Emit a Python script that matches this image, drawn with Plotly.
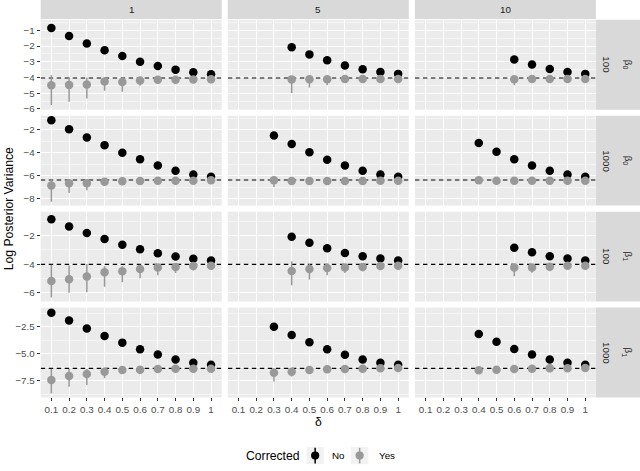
import numpy as np
import plotly.graph_objects as go

# ---------------- data ----------------
delta = [0.1, 0.2, 0.3, 0.4, 0.5, 0.6, 0.7, 0.8, 0.9, 1.0]
delta_labels = ["0.1", "0.2", "0.3", "0.4", "0.5", "0.6", "0.7", "0.8", "0.9", "1"]
col_labels = ["1", "5", "10"]
row_n_labels = ["100", "1000", "100", "1000"]
row_beta_labels = ["β<sub>0</sub>", "β<sub>0</sub>", "β<sub>1</sub>", "β<sub>1</sub>"]
col_start = [0.1, 0.4, 0.6]          # first delta shown per column (rows 1,3)
col_start_1000 = [0.1, 0.3, 0.4]     # first delta shown per column (rows 2,4)

truth = [-4.03, -6.38, -4.02, -6.34]

# Row 1: beta0, n=100
b0_100_no = [[-0.85, -1.36, -1.84, -2.26, -2.64, -3.00, -3.27, -3.50, -3.67, -3.79],
             [-2.07, -2.53, -2.91, -3.23, -3.48, -3.65, -3.77],
             [-2.85, -3.18, -3.46, -3.65, -3.77]]
b0_100_yes = [[-4.49, -4.47, -4.45, -4.26, -4.28, -4.19, -4.15, -4.15, -4.13, -4.11],
              [-4.12, -4.11, -4.11, -4.10, -4.10, -4.10, -4.10],
              [-4.11, -4.10, -4.10, -4.10, -4.10]]
b0_100_lo = [[-5.75, -5.54, -5.33, -4.84, -4.90, -4.53, -4.35, -4.30, -4.25, -4.20],
             [-4.99, -4.63, -4.49, -4.30, -4.25, -4.20, -4.20],
             [-4.49, -4.30, -4.25, -4.20, -4.20]]
b0_100_hi = [[-3.86, -4.00, -4.00, -4.00, -4.05, -4.00, -4.00, -4.02, -4.02, -4.02],
             [-3.90, -3.95, -3.98, -4.00, -4.00, -4.00, -4.00],
             [-3.95, -4.00, -4.00, -4.00, -4.00]]

# Row 2: beta0, n=1000
b0_1000_no = [[-1.16, -1.94, -2.66, -3.33, -3.99, -4.57, -5.12, -5.58, -5.89, -6.10],
              [-2.49, -3.24, -3.96, -4.60, -5.12, -5.58, -5.89, -6.10],
              [-3.15, -3.90, -4.57, -5.12, -5.58, -5.89, -6.10]]
b0_1000_yes = [[-6.87, -6.67, -6.67, -6.53, -6.50, -6.47, -6.44, -6.44, -6.44, -6.41],
               [-6.41, -6.47, -6.47, -6.47, -6.47, -6.47, -6.44, -6.44],
               [-6.41, -6.44, -6.44, -6.44, -6.44, -6.44, -6.44]]
b0_1000_lo = [[-8.29, -7.51, -7.28, -6.80, -6.70, -6.65, -6.60, -6.60, -6.60, -6.55],
              [-6.99, -6.75, -6.65, -6.60, -6.60, -6.60, -6.55, -6.55],
              [-6.70, -6.65, -6.60, -6.60, -6.60, -6.55, -6.55]]
b0_1000_hi = [[-6.27, -6.30, -6.35, -6.35, -6.35, -6.35, -6.35, -6.35, -6.35, -6.30],
              [-6.20, -6.30, -6.30, -6.30, -6.30, -6.30, -6.30, -6.30],
              [-6.30, -6.30, -6.30, -6.30, -6.30, -6.30, -6.30]]

# Row 3: beta1, n=100
b1_100_no = [[-0.84, -1.35, -1.81, -2.23, -2.63, -2.95, -3.23, -3.47, -3.63, -3.74],
             [-2.07, -2.49, -2.88, -3.21, -3.44, -3.60, -3.74],
             [-2.84, -3.16, -3.44, -3.60, -3.74]]
b1_100_yes = [[-5.19, -5.07, -4.88, -4.58, -4.51, -4.35, -4.23, -4.21, -4.14, -4.12],
              [-4.49, -4.35, -4.28, -4.23, -4.21, -4.14, -4.12],
              [-4.23, -4.23, -4.19, -4.12, -4.12]]
b1_100_lo = [[-6.35, -6.02, -5.98, -5.60, -5.28, -5.00, -4.79, -4.63, -4.45, -4.38],
             [-5.49, -5.09, -4.79, -4.63, -4.50, -4.40, -4.35],
             [-4.86, -4.60, -4.50, -4.35, -4.35]]
b1_100_hi = [[-4.05, -4.10, -4.00, -4.15, -4.15, -4.05, -4.00, -4.00, -3.95, -3.95],
             [-3.81, -4.00, -4.00, -4.00, -4.00, -3.95, -3.95],
             [-4.00, -4.00, -4.00, -3.95, -3.95]]

# Row 4: beta1, n=1000
b1_1000_no = [[-1.19, -1.92, -2.65, -3.35, -3.96, -4.57, -5.06, -5.52, -5.82, -6.01],
              [-2.50, -3.26, -3.93, -4.57, -5.09, -5.52, -5.82, -6.01],
              [-3.17, -3.87, -4.54, -5.06, -5.52, -5.82, -6.01]]
b1_1000_yes = [[-7.41, -7.04, -6.86, -6.65, -6.49, -6.46, -6.40, -6.37, -6.37, -6.37],
               [-6.74, -6.65, -6.49, -6.43, -6.40, -6.37, -6.34, -6.31],
               [-6.52, -6.46, -6.40, -6.37, -6.34, -6.34, -6.31]]
b1_1000_lo = [[-8.66, -8.05, -7.87, -7.26, -6.80, -6.70, -6.60, -6.55, -6.55, -6.50],
              [-7.56, -7.10, -6.75, -6.65, -6.60, -6.55, -6.50, -6.50],
              [-6.75, -6.65, -6.60, -6.55, -6.50, -6.50, -6.45]]
b1_1000_hi = [[-6.37, -6.40, -6.40, -6.30, -6.30, -6.30, -6.25, -6.25, -6.25, -6.25],
              [-6.35, -6.35, -6.30, -6.25, -6.25, -6.20, -6.20, -6.20],
              [-6.30, -6.30, -6.25, -6.20, -6.20, -6.20, -6.20]]

y_tickvals = [[-1, -2, -3, -4, -5, -6], [-2, -4, -6, -8], [-2, -4, -6], [-2.5, -5.0, -7.5]]
y_ticktext = [["−1", "−2", "−3", "−4", "−5", "−6"], ["−2", "−4", "−6", "−8"],
              ["−2", "−4", "−6"], ["−2.5", "−5.0", "−7.5"]]
y_minor = [0.5, 1.0, 1.0, 1.25]
y_ranges = [[-6.05, -0.33], [-8.62, -0.76], [-6.64, -0.30], [-9.03, -0.72]]
x_range = [0.04, 1.06]

rows = [
    (b0_100_no, b0_100_yes, b0_100_lo, b0_100_hi, col_start),
    (b0_1000_no, b0_1000_yes, b0_1000_lo, b0_1000_hi, col_start_1000),
    (b1_100_no, b1_100_yes, b1_100_lo, b1_100_hi, col_start),
    (b1_1000_no, b1_1000_yes, b1_1000_lo, b1_1000_hi, col_start_1000),
]

# ---------------- layout geometry (pixels) ----------------
W, H = 640, 471
col_px = [(40.7, 221.7), (227.8, 408.8), (414.9, 595.9)]
row_px = [(20.0, 110.9), (117.0, 207.8), (213.9, 304.8), (310.9, 401.7)]

def px_x(x):
    return x / W

def px_y(y):
    return 1 - y / H

FONT = "Liberation Sans, Arial, sans-serif"
BLACK = "#000000"
GREY = "#999999"
STRIP = "#D9D9D9"

fig = go.Figure()
layout = dict(
    width=W, height=H, margin=dict(l=0, r=0, t=0, b=0),
    paper_bgcolor="white", plot_bgcolor="#EBEBEB",
    showlegend=False, font=dict(family=FONT, color="#4D4D4D", size=10),
)
shapes = []
annotations = []

for r in range(4):
    no_l, yes_l, lo_l, hi_l, starts = rows[r]
    for c in range(3):
        i = r * 3 + c + 1
        xa = "x" if i == 1 else f"x{i}"
        ya = "y" if i == 1 else f"y{i}"
        start_idx = delta.index(starts[c])
        xs = delta[start_idx:]
        no = np.array(no_l[c])
        yes = np.array(yes_l[c])
        lo = np.array(lo_l[c])
        hi = np.array(hi_l[c])
        # reference (true) variance line, drawn above grid but below the points
        fig.add_trace(go.Scatter(
            x=x_range, y=[truth[r], truth[r]], mode="lines", xaxis=xa, yaxis=ya,
            line=dict(color="black", width=1.1, dash="4.5px,3.5px"),
            hoverinfo="skip", cliponaxis=True))
        fig.add_trace(go.Scatter(
            x=xs, y=no, mode="markers", xaxis=xa, yaxis=ya,
            marker=dict(color=BLACK, size=8.5, line=dict(width=0)),
            name="No", hoverinfo="skip"))
        fig.add_trace(go.Scatter(
            x=xs, y=yes, mode="markers", xaxis=xa, yaxis=ya,
            marker=dict(color=GREY, size=8.5, line=dict(width=0)),
            error_y=dict(type="data", symmetric=False, array=(hi - yes).tolist(),
                         arrayminus=(yes - lo).tolist(), color=GREY, thickness=1.5, width=0),
            name="Yes", hoverinfo="skip"))

        bottom = (r == 3)
        left = (c == 0)
        layout[f"xaxis{i}" if i > 1 else "xaxis"] = dict(
            domain=[px_x(col_px[c][0]), px_x(col_px[c][1])],
            anchor=ya, range=x_range,
            tickmode="array", tickvals=delta, ticktext=delta_labels,
            showticklabels=bottom, ticks="outside" if bottom else "",
            ticklen=3, tickwidth=1, tickcolor="#333333",
            tickfont=dict(size=9.8, color="#4D4D4D", family=FONT),
            showgrid=True, gridcolor="white", gridwidth=1,
            zeroline=False, showline=False, fixedrange=True,
        )
        layout[f"yaxis{i}" if i > 1 else "yaxis"] = dict(
            domain=[px_y(row_px[r][1]), px_y(row_px[r][0])],
            anchor=xa, range=y_ranges[r],
            tickmode="array", tickvals=y_tickvals[r], ticktext=y_ticktext[r],
            showticklabels=left, ticks="outside" if left else "",
            ticklen=3, tickwidth=1, tickcolor="#333333",
            tickfont=dict(size=9.8, color="#4D4D4D", family=FONT),
            showgrid=True, gridcolor="white", gridwidth=1,
            minor=dict(tickmode="linear", tick0=0, dtick=y_minor[r],
                       showgrid=True, gridcolor="white", gridwidth=0.5),
            zeroline=False, showline=False, fixedrange=True,
        )

# top strips
for c in range(3):
    shapes.append(dict(type="rect", xref="paper", yref="paper",
                       x0=px_x(col_px[c][0]), x1=px_x(col_px[c][1]),
                       y0=px_y(19.3), y1=px_y(0), fillcolor=STRIP,
                       line=dict(width=0)))
    annotations.append(dict(text=col_labels[c], xref="paper", yref="paper",
                            x=px_x((col_px[c][0] + col_px[c][1]) / 2), y=px_y(9.8),
                            showarrow=False, xanchor="center", yanchor="middle",
                            font=dict(size=9.8, color="#1A1A1A", family=FONT)))
# right strips
for r in range(4):
    y0, y1 = row_px[r]
    shapes.append(dict(type="rect", xref="paper", yref="paper",
                       x0=px_x(596.0), x1=px_x(640), y0=px_y(y1), y1=px_y(y0),
                       fillcolor=STRIP, line=dict(width=0)))
    annotations.append(dict(text=row_n_labels[r], xref="paper", yref="paper",
                            x=px_x(606.5), y=px_y((y0 + y1) / 2), textangle=90,
                            showarrow=False, xanchor="center", yanchor="middle",
                            font=dict(size=9.8, color="#1A1A1A", family=FONT)))
    annotations.append(dict(text=row_beta_labels[r], xref="paper", yref="paper",
                            x=px_x(628.0), y=px_y((y0 + y1) / 2), textangle=90,
                            showarrow=False, xanchor="center", yanchor="middle",
                            font=dict(size=9.8, color="#1A1A1A", family=FONT)))

# axis titles
annotations.append(dict(text="Log Posterior Variance", xref="paper", yref="paper",
                        x=px_x(8.5), y=px_y(211), textangle=-90, showarrow=False,
                        xanchor="center", yanchor="middle",
                        font=dict(size=12.2, color="#000000", family=FONT)))
annotations.append(dict(text="δ", xref="paper", yref="paper",
                        x=px_x(318.3), y=px_y(427), showarrow=False,
                        xanchor="center", yanchor="middle",
                        font=dict(size=12.2, color="#000000", family=FONT)))

# legend (manual, ggplot style)
annotations.append(dict(text="Corrected", xref="paper", yref="paper",
                        x=px_x(243.5), y=px_y(460.5), showarrow=False,
                        xanchor="left", yanchor="middle",
                        font=dict(size=12.2, color="#000000", family=FONT)))
legend_items = [("No", BLACK, 306.5, 330.0), ("Yes", GREY, 351.0, 376.5)]
for label, colr, kx, tx in legend_items:
    ks = 17.3
    cx = kx + ks / 2
    cy = 460.5
    shapes.append(dict(type="rect", xref="paper", yref="paper",
                       x0=px_x(kx), x1=px_x(kx + ks), y0=px_y(cy + ks / 2), y1=px_y(cy - ks / 2),
                       fillcolor="#F2F2F2", line=dict(width=0)))
    shapes.append(dict(type="line", xref="paper", yref="paper",
                       x0=px_x(cx), x1=px_x(cx), y0=px_y(cy + ks / 2 - 0.8), y1=px_y(cy - ks / 2 + 0.8),
                       line=dict(color=colr, width=1.5)))
    rr = 4.1
    shapes.append(dict(type="circle", xref="paper", yref="paper",
                       x0=px_x(cx - rr), x1=px_x(cx + rr), y0=px_y(cy + rr), y1=px_y(cy - rr),
                       fillcolor=colr, line=dict(width=0)))
    annotations.append(dict(text=label, xref="paper", yref="paper",
                            x=px_x(tx), y=px_y(cy), showarrow=False,
                            xanchor="left", yanchor="middle",
                            font=dict(size=9.8, color="#000000", family=FONT)))

layout["shapes"] = shapes
layout["annotations"] = annotations
fig.update_layout(**layout)
fig.write_html("out.html", config={"displayModeBar": False, "staticPlot": True},
               post_script="document.body.style.margin='0';document.body.style.overflow='hidden';")
